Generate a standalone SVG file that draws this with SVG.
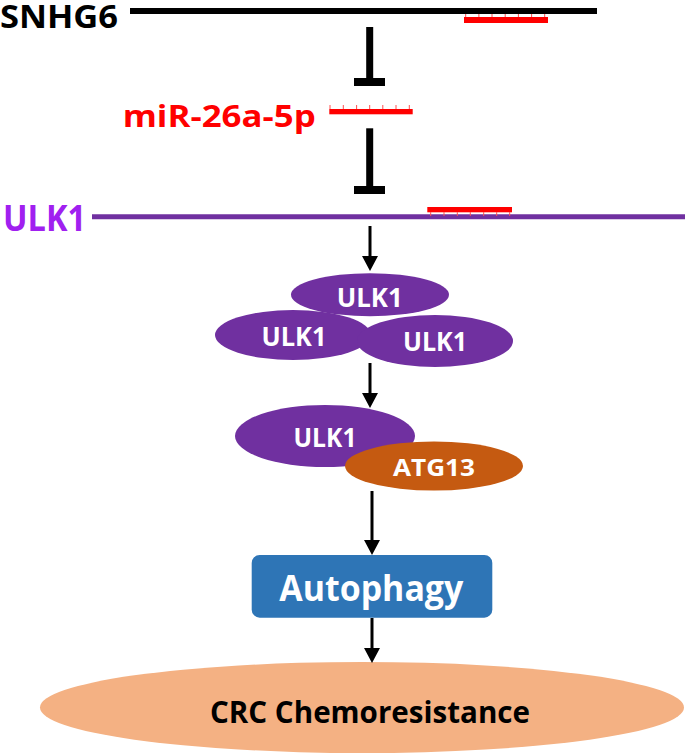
<svg xmlns="http://www.w3.org/2000/svg" width="685" height="756" viewBox="0 0 685 756">
<style>
text{font-family:"Open Sans","Noto Sans","Liberation Sans",sans-serif;font-weight:bold;}
.w{fill:#fff;text-anchor:middle;}
.tick{stroke:#FF5050;stroke-width:1;}
.arr{stroke:#000;stroke-width:3;fill:none;}
</style>
<defs>
<marker id="ah" markerUnits="userSpaceOnUse" markerWidth="15" markerHeight="16" viewBox="0 0 15 16" refX="7" refY="8" orient="auto">
<path d="M0,0 L15,8 L0,16 z" fill="#000"/>
</marker>
</defs>
<rect width="685" height="756" fill="#fff"/>

<g id="snhg6">
<text x="0" y="28" font-size="32" fill="#000" textLength="118" lengthAdjust="spacingAndGlyphs">SNHG6</text>
<line x1="130" y1="11" x2="597" y2="11" stroke="#000" stroke-width="6"/>
<rect x="464" y="17" width="84" height="6" fill="#FF0000"/>
<g class="tick">
<line x1="465.7" y1="14" x2="465.7" y2="17"/><line x1="478.9" y1="14" x2="478.9" y2="17"/><line x1="492" y1="14" x2="492" y2="17"/><line x1="505.2" y1="14" x2="505.2" y2="17"/><line x1="518.4" y1="14" x2="518.4" y2="17"/><line x1="531.6" y1="14" x2="531.6" y2="17"/><line x1="544.7" y1="14" x2="544.7" y2="17"/>
</g>
</g>

<g id="mir">
<text x="122.7" y="126.7" font-size="30" fill="#FF0000" textLength="193" lengthAdjust="spacingAndGlyphs">miR-26a-5p</text>
<rect x="329.3" y="109" width="83.4" height="5.3" fill="#FF0000"/>
<g class="tick">
<line x1="330" y1="105" x2="330" y2="109"/><line x1="343.3" y1="105" x2="343.3" y2="109"/><line x1="356.6" y1="105" x2="356.6" y2="109"/><line x1="369.7" y1="105" x2="369.7" y2="109"/><line x1="382.8" y1="105" x2="382.8" y2="109"/><line x1="396" y1="105" x2="396" y2="109"/><line x1="409.3" y1="105" x2="409.3" y2="109"/>
</g>
</g>

<g id="ulk1-gene">
<text x="3" y="231" font-size="36" fill="#A020F0" textLength="83" lengthAdjust="spacingAndGlyphs">ULK1</text>
<line x1="92" y1="216.7" x2="685" y2="216.7" stroke="#7030A0" stroke-width="5"/>
<rect x="427.3" y="207" width="84.7" height="5.3" fill="#FF0000"/>
<g class="tick">
<line x1="430.7" y1="212" x2="430.7" y2="216"/><line x1="444" y1="212" x2="444" y2="216"/><line x1="457.3" y1="212" x2="457.3" y2="216"/><line x1="470.3" y1="212" x2="470.3" y2="216"/><line x1="483.7" y1="212" x2="483.7" y2="216"/><line x1="496.7" y1="212" x2="496.7" y2="216"/><line x1="509.7" y1="212" x2="509.7" y2="216"/>
</g>
</g>

<g id="trimer">
<ellipse cx="370" cy="294.7" rx="79" ry="21.5" fill="#7030A0"/>
<ellipse cx="293" cy="335" rx="78" ry="25" fill="#7030A0"/>
<ellipse cx="435" cy="341" rx="78" ry="26" fill="#7030A0"/>
<text class="w" x="369.7" y="306.5" font-size="26" textLength="66" lengthAdjust="spacingAndGlyphs">ULK1</text>
<text class="w" x="294" y="346" font-size="26" textLength="65" lengthAdjust="spacingAndGlyphs">ULK1</text>
<text class="w" x="435" y="350.5" font-size="26" textLength="64" lengthAdjust="spacingAndGlyphs">ULK1</text>
</g>

<g id="complex">
<ellipse cx="325" cy="436" rx="90" ry="31" fill="#7030A0"/>
<text class="w" x="325" y="446.7" font-size="26" textLength="63" lengthAdjust="spacingAndGlyphs">ULK1</text>
<ellipse cx="434" cy="466" rx="89" ry="24.5" fill="#C55A11"/>
<text class="w" x="434" y="476" font-size="23" textLength="82" lengthAdjust="spacingAndGlyphs">ATG13</text>
</g>

<g id="autophagy">
<rect x="251.7" y="555" width="240.6" height="62.7" rx="8" fill="#2E75B6"/>
<text class="w" x="371.3" y="601" font-size="36" textLength="184" lengthAdjust="spacingAndGlyphs">Autophagy</text>
</g>

<g id="crc">
<ellipse cx="362" cy="707.5" rx="322" ry="45.5" fill="#F4B183"/>
<text x="370" y="723" font-size="31" fill="#000" text-anchor="middle" textLength="320" lengthAdjust="spacingAndGlyphs">CRC Chemoresistance</text>
</g>

<g id="connectors">
<rect x="366.2" y="27" width="7" height="52" fill="#000"/>
<rect x="354" y="78" width="31" height="8" fill="#000"/>
<rect x="366.2" y="128.3" width="7" height="58" fill="#000"/>
<rect x="354" y="186" width="31" height="8" fill="#000"/>
<line class="arr" x1="370" y1="226" x2="370" y2="263" marker-end="url(#ah)"/>
<line class="arr" x1="370" y1="363" x2="370" y2="400" marker-end="url(#ah)"/>
<line class="arr" x1="372" y1="491" x2="372" y2="547" marker-end="url(#ah)"/>
<line class="arr" x1="372" y1="618" x2="372" y2="655" marker-end="url(#ah)"/>
</g>
</svg>
